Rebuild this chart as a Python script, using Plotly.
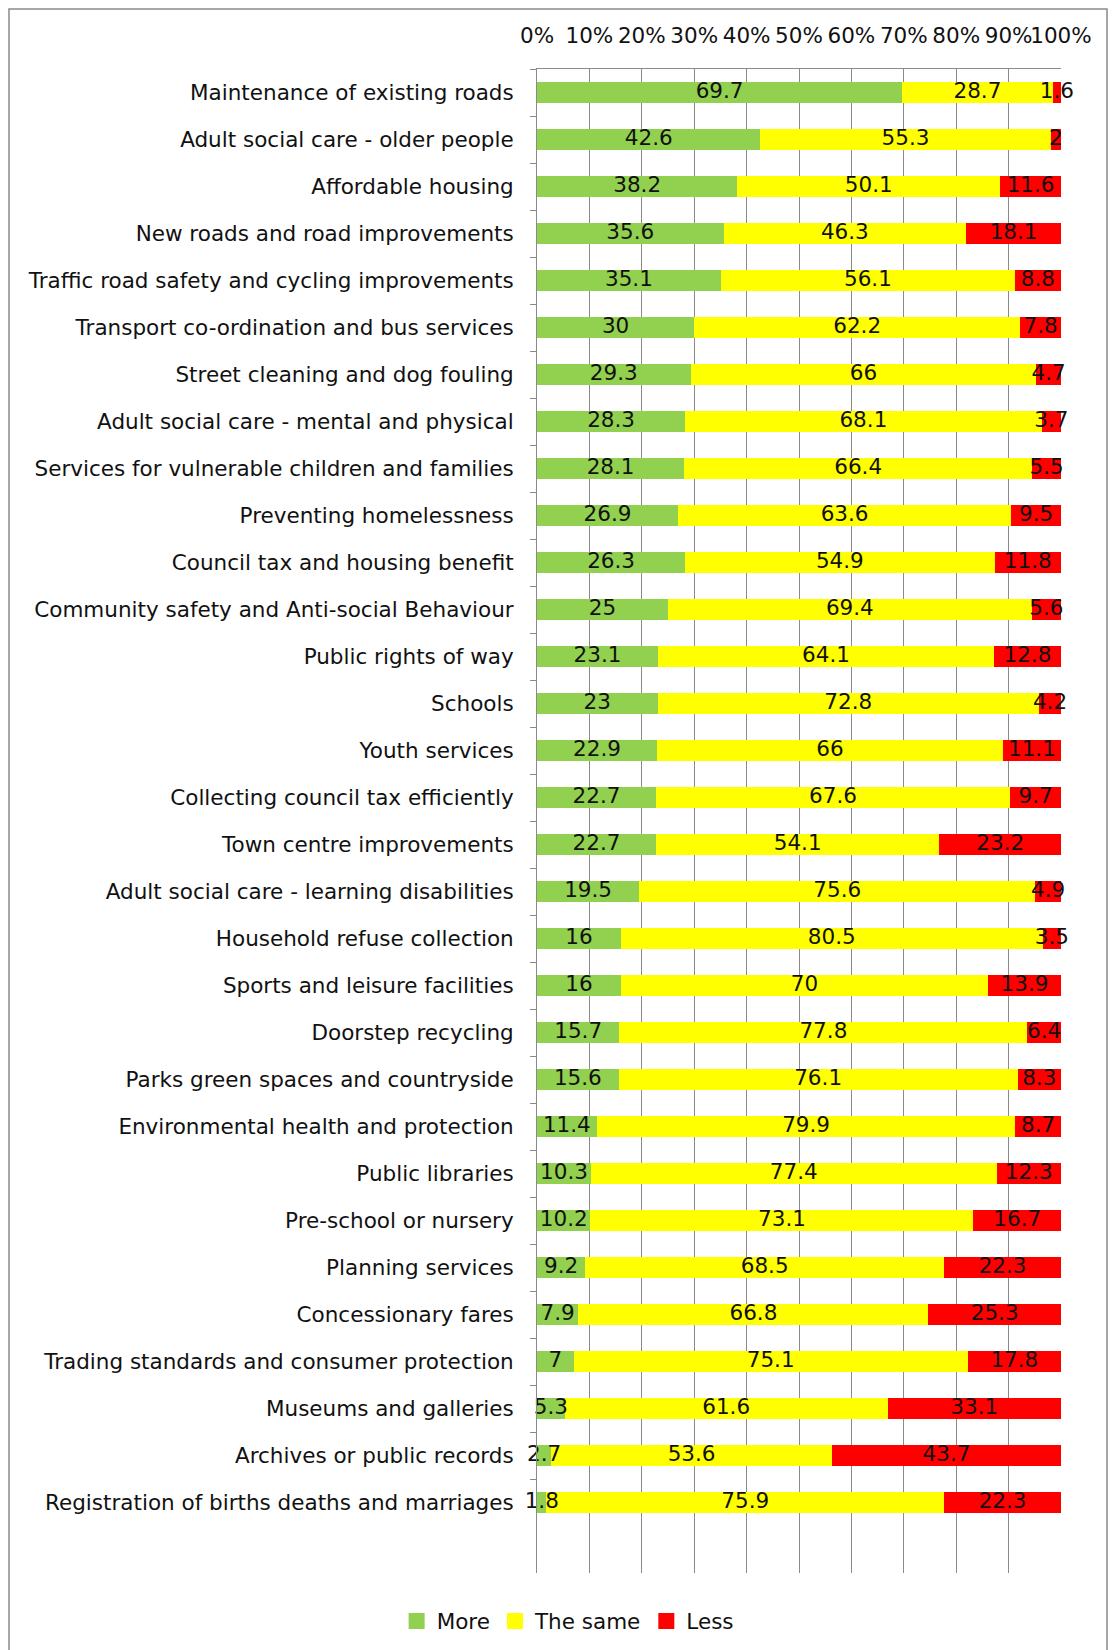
import plotly.graph_objects as go

categories = [
    "Maintenance of existing roads",
    "Adult social care - older people",
    "Affordable housing",
    "New roads and road improvements",
    "Traffic road safety and cycling improvements",
    "Transport co-ordination and bus services",
    "Street cleaning and dog fouling",
    "Adult social care - mental and physical",
    "Services for vulnerable children and families",
    "Preventing homelessness",
    "Council tax and housing benefit",
    "Community safety and Anti-social Behaviour",
    "Public rights of way",
    "Schools",
    "Youth services",
    "Collecting council tax efficiently",
    "Town centre improvements",
    "Adult social care - learning disabilities",
    "Household refuse collection",
    "Sports and leisure facilities",
    "Doorstep recycling",
    "Parks green spaces and countryside",
    "Environmental health and protection",
    "Public libraries",
    "Pre-school or nursery",
    "Planning services",
    "Concessionary fares",
    "Trading standards and consumer protection",
    "Museums and galleries",
    "Archives or public records",
    "Registration of births deaths and marriages",
]

more = [69.7, 42.6, 38.2, 35.6, 35.1, 30, 29.3, 28.3, 28.1, 26.9, 26.3, 25, 23.1, 23,
        22.9, 22.7, 22.7, 19.5, 16, 16, 15.7, 15.6, 11.4, 10.3, 10.2, 9.2, 7.9, 7,
        5.3, 2.7, 1.8]
same = [28.7, 55.3, 50.1, 46.3, 56.1, 62.2, 66, 68.1, 66.4, 63.6, 54.9, 69.4, 64.1, 72.8,
        66, 67.6, 54.1, 75.6, 80.5, 70, 77.8, 76.1, 79.9, 77.4, 73.1, 68.5, 66.8, 75.1,
        61.6, 53.6, 75.9]
less = [1.6, 2, 11.6, 18.1, 8.8, 7.8, 4.7, 3.7, 5.5, 9.5, 11.8, 5.6, 12.8, 4.2,
        11.1, 9.7, 23.2, 4.9, 3.5, 13.9, 6.4, 8.3, 8.7, 12.3, 16.7, 22.3, 25.3, 17.8,
        33.1, 43.7, 22.3]

series_names = ["More", "The same", "Less"]
colors = ["#92D050", "#FFFF00", "#FF0000"]
tick_vals = [0, 10, 20, 30, 40, 50, 60, 70, 80, 90, 100]
tick_text = [f"{v}%" for v in tick_vals]

FONT = "DejaVu Sans"
FS = 21.5
W, H = 1113, 1650
L, R, T, B = 537, 52, 69, 77

series = [more, same, less]
totals = [m + s + l for m, s, l in zip(*series)]

fig = go.Figure()
for name, vals, col in zip(series_names, series, colors):
    fig.add_trace(go.Bar(
        y=categories, x=vals, name=name, orientation="h",
        marker=dict(color=col, line=dict(width=0)),
        width=0.44, showlegend=False, hoverinfo="skip",
    ))

# data labels drawn above all bars, centred on each (100%-normalised) segment
cum = [0.0] * len(categories)
for vals in series:
    centres = []
    for i, v in enumerate(vals):
        start = cum[i] / totals[i] * 100
        end = (cum[i] + v) / totals[i] * 100
        centres.append((start + end) / 2)
        cum[i] += v
    fig.add_trace(go.Scatter(
        x=centres, y=categories, mode="text",
        text=[f"{v:g}" for v in vals], textposition="middle center",
        textfont=dict(family=FONT, size=FS, color="#111111"),
        showlegend=False, cliponaxis=False, hoverinfo="skip",
    ))

# legend entries with larger square swatches
for name, col in zip(series_names, colors):
    fig.add_trace(go.Scatter(
        x=[None], y=[None], mode="markers", name=name,
        marker=dict(symbol="square", size=16, color=col, line=dict(width=0)),
        showlegend=True,
    ))

n = len(categories)
fig.update_layout(
    width=W, height=H,
    barmode="stack", barnorm="percent",
    plot_bgcolor="white", paper_bgcolor="white",
    margin=dict(l=L, r=R, t=T, b=B, autoexpand=False),
    font=dict(family=FONT, size=FS, color="#111111"),
    legend=dict(orientation="h", xref="container", yref="container",
                x=0.51, y=1 - 1621 / H, xanchor="center", yanchor="middle",
                font=dict(family=FONT, size=FS), traceorder="normal",
                itemwidth=30, tracegroupgap=0),
    xaxis=dict(side="top", range=[0, 100], tickvals=tick_vals, ticktext=tick_text,
               tickangle=0,
               showgrid=True, gridcolor="#8a8a8a", gridwidth=1,
               showline=True, linecolor="#8a8a8a", linewidth=1,
               ticks="", zeroline=False, tickfont=dict(family=FONT, size=FS),
               ticklabelstandoff=16, fixedrange=True),
    yaxis=dict(type="category", categoryorder="array", categoryarray=categories,
               range=[n - 1 + 1.5, -0.5],
               showline=True, linecolor="#8a8a8a", linewidth=1,
               ticks="outside", ticklen=6, tickcolor="#8a8a8a", tickson="boundaries",
               ticklabelstandoff=18,
               showgrid=False, tickfont=dict(family=FONT, size=FS),
               fixedrange=True),
    shapes=[dict(type="rect", xref="paper", yref="paper",
                 x0=(9 - L) / (W - L - R), x1=(1107 - L) / (W - L - R),
                 y0=(H - B - 1665) / (H - T - B), y1=(H - B - 9) / (H - T - B),
                 line=dict(color="#8a8a8a", width=1.5), fillcolor="rgba(0,0,0,0)",
                 layer="below")],
)

fig.write_html("out.html", config={"displayModeBar": False},
               post_script="document.body.style.margin='0';document.body.style.overflow='hidden';")
